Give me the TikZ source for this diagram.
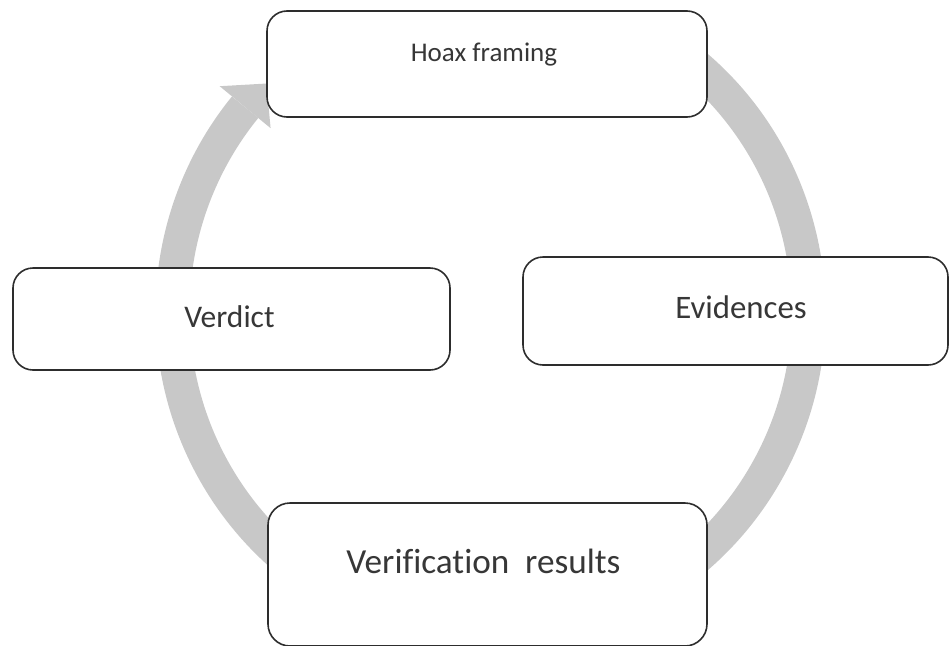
\documentclass[tikz,border=0pt]{standalone}
\usepackage{fontspec}
\setmainfont{Carlito}[Ligatures=NoCommon]
\usetikzlibrary{calc}
\definecolor{ringgray}{RGB}{200,200,200}
\definecolor{boxline}{RGB}{45,45,45}
\definecolor{txt}{RGB}{55,55,55}
\tikzset{
  box/.style={draw=boxline, line width=1.6pt, fill=white, rounded corners=20pt, inner sep=0pt},
  lbl/.style={text=txt, inner sep=0pt, anchor=base},
  ring/.style={draw=ringgray, line width=34pt, line cap=butt},
  ringhead/.style={fill=ringgray, draw=none}
}
\begin{document}
\begin{tikzpicture}[x=1pt,y=-1pt]
\useasboundingbox (0,0) rectangle (949,645);
\coordinate (c) at (490.5,312);
% cycle arrow
\draw[ring] ($(c)+(-60:318 and 322)$) arc[start angle=-60, end angle=219.5, x radius=318, y radius=322];
\fill[ringhead] ($(c)+(219.5:351 and 355)$) -- ($(c)+(225.2:318 and 322)$) -- ($(c)+(219.5:285 and 289)$) -- cycle;
% boxes
\node[box, minimum width=440pt, minimum height=106pt] (hoax) at (487,64) {};
\node[box, minimum width=425pt, minimum height=108pt] (evid) at (735.5,311) {};
\node[box, minimum width=437pt, minimum height=102pt] (verd) at (231.5,319) {};
\node[box, minimum width=439pt, minimum height=143pt, rounded corners=22pt] (veri) at (487.5,574.5) {};
% labels
\node[lbl, font=\fontsize{27}{30}\selectfont] (hoaxt) at (484,61) {Hoax framing};
\node[lbl, font=\fontsize{32.8}{36}\selectfont] (evidt) at (741,318) {Evidences};
\node[lbl, font=\fontsize{31.5}{35}\selectfont] (verdt) at (229.5,327) {Verdict};
\node[lbl, font=\fontsize{35.2}{39}\selectfont] (verit) at (483.5,573) {Verification\ \ results};
\end{tikzpicture}
\end{document}
